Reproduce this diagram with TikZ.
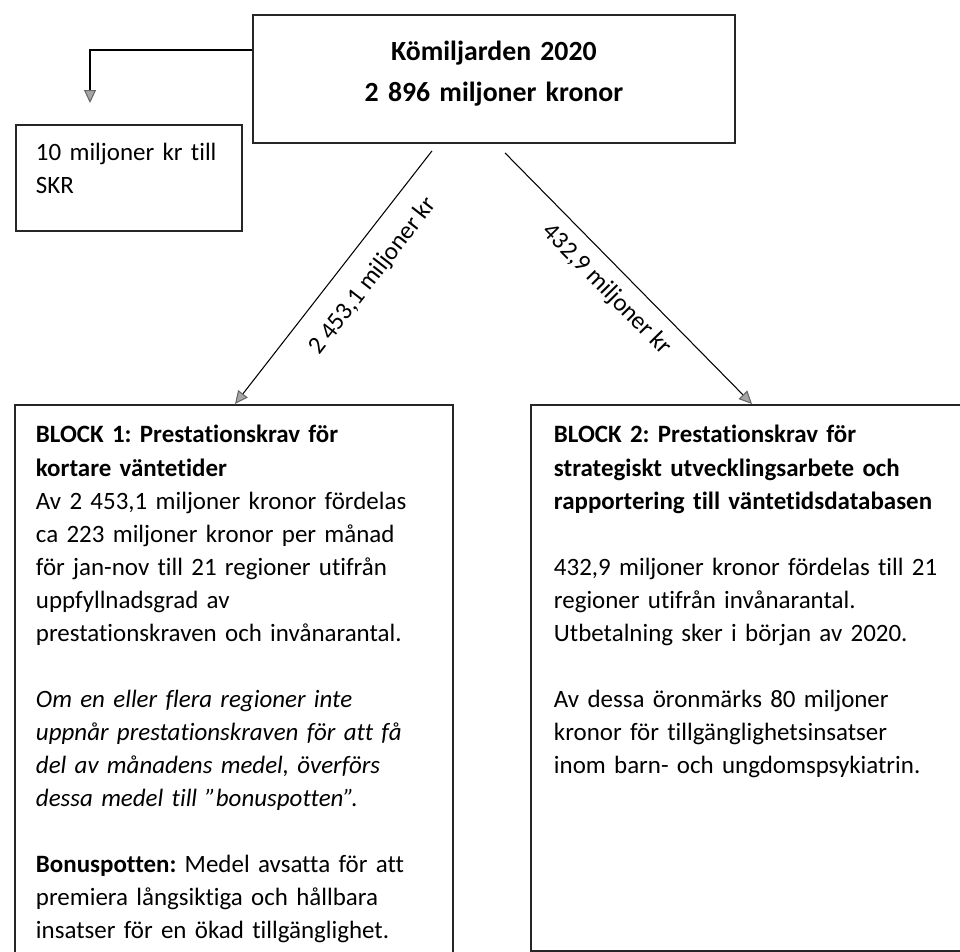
\documentclass[tikz,border=0pt]{standalone}
\usepackage{fontspec}
\setmainfont[Ligatures=NoCommon]{Carlito}
\usepackage{tikz}
\usetikzlibrary{arrows.meta,calc}
\frenchspacing

\begin{document}
\begin{tikzpicture}[
  x=0.02cm, y=-0.02cm,
  box/.style={rectangle, draw=black!85, line width=1.1pt, anchor=north west, inner ysep=0pt, align=left, font=\fontsize{14.2}{18.8}\selectfont},
  topbox/.style={box, inner xsep=0pt, align=center, text width=9.64cm, text height=0.92cm, text depth=1.64cm, font=\fontsize{15.8}{22.8}\selectfont\bfseries},
  conn/.style={black, line width=0.6pt},
  tip/.style={-{Triangle[length=0.26cm, width=0.24cm, fill=gray!70, color=gray!80!black]}},
  lbl/.style={font=\fontsize{14.2}{16}\selectfont, inner sep=3pt}
]
  \useasboundingbox (0,0) rectangle (960,951);
  \clip (0,0) rectangle (960,951);

  % top box
  \node[topbox] (kmd) at (252,14) {Kömiljarden 2020\\2 896 miljoner kronor};

  % SKR
  \node[box, inner xsep=0.4cm, text width=3.72cm, text height=0.72cm, text depth=1.4cm] (skr) at (15,124)
    {10 miljoner kr till\\SKR};
  \coordinate (skrin) at (90,103);

  % the two blocks
  \node[box, inner xsep=0.42cm, text width=7.92cm, text height=0.76cm, text depth=11.16cm] (blockA) at (14,404)
    {\textbf{BLOCK 1: Prestationskrav för}\\
     \textbf{kortare väntetider}\\
     Av 2 453,1 miljoner kronor fördelas\\
     ca 223 miljoner kronor per månad\\
     för jan-nov till 21 regioner utifrån\\
     uppfyllnadsgrad av\\
     prestationskraven och invånarantal.\\[18.8pt]
     \textit{Om en eller flera regioner inte}\\
     \textit{uppnår prestationskraven för att få}\\
     \textit{del av månadens medel, överförs}\\
     \textit{dessa medel till ”bonuspotten”.}\\[18.8pt]
     \textbf{Bonuspotten:} Medel avsatta för att\\
     premiera långsiktiga och hållbara\\
     insatser för en ökad tillgänglighet.};
  \node[box, inner xsep=0.46cm, text width=8.48cm, text height=0.76cm, text depth=10.16cm] (blockB) at (530,404)
    {\textbf{BLOCK 2: Prestationskrav för}\\
     \textbf{strategiskt utvecklingsarbete och}\\
     \textbf{rapportering till väntetidsdatabasen}\\[18.8pt]
     432,9 miljoner kronor fördelas till 21\\
     regioner utifrån invånarantal.\\
     Utbetalning sker i början av 2020.\\[18.8pt]
     Av dessa öronmärks 80 miljoner\\
     kronor för tillgänglighetsinsatser\\
     inom barn- och ungdomspsykiatrin.};

  % connectors
  \draw[conn, tip] ($(kmd.north west)+(0,36)$) -| (skrin);
  \draw[conn, tip] ($(kmd.south west)+(180,7)$) -- node[lbl, pos=0.42, sloped, below=8pt] {2 453,1 miljoner kr} ($(blockA.north west)+(221,0)$);
  \draw[conn, tip] ($(kmd.south west)+(253,9)$) -- node[lbl, pos=0.48, sloped, below=4pt] {432,9 miljoner kr} ($(blockB.north west)+(222,0)$);
\end{tikzpicture}
\end{document}
